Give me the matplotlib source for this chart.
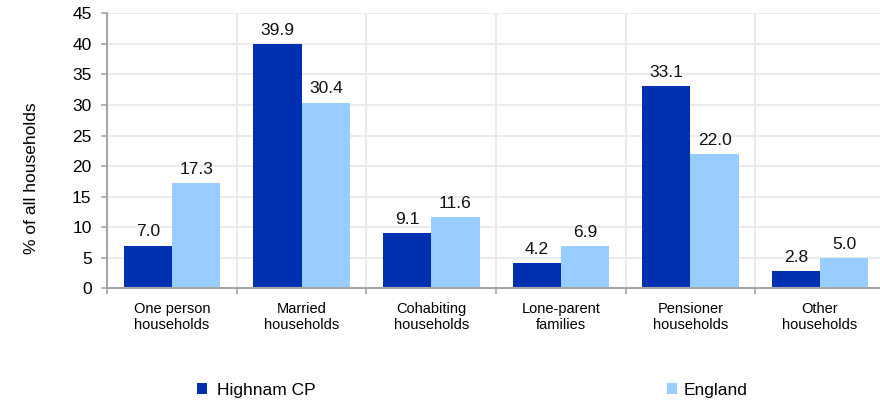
import matplotlib
matplotlib.use("Agg")
import matplotlib.pyplot as plt
import numpy as np
from matplotlib.patches import Patch

categories = ["One person\nhouseholds", "Married\nhouseholds", "Cohabiting\nhouseholds",
              "Lone-parent\nfamilies", "Pensioner\nhouseholds", "Other\nhouseholds"]
highnam = [7.0, 39.9, 9.1, 4.2, 33.1, 2.8]
england = [17.3, 30.4, 11.6, 6.9, 22.0, 5.0]
series_names = ["Highnam CP", "England"]
yticks = [0, 5, 10, 15, 20, 25, 30, 35, 40, 45]

plt.rcParams['font.family'] = ['Liberation Sans', 'DejaVu Sans']

dark = '#0030B0'
light = '#99CCFF'
grid_c = '#EBEBEB'
spine_c = '#A6A6A6'
num_fs = 12.5
cat_fs = 10.5

fig = plt.figure(figsize=(8.8, 4.04), dpi=100)
ax = fig.add_axes([107.3/880, 1-288.3/404, 777.5/880, (288.3-13.3)/404])

x = np.arange(len(categories))
w = 0.373
ax.bar(x - w/2, highnam, w, color=dark, zorder=3)
ax.bar(x + w/2, england, w, color=light, zorder=3)

for xi, v in zip(x - w/2, highnam):
    ax.annotate(f"{v:.1f}", (xi, v), xytext=(0, 6.5), textcoords='offset points',
                ha='center', va='baseline', fontsize=num_fs, color='#111111')
for xi, v in zip(x + w/2, england):
    ax.annotate(f"{v:.1f}", (xi, v), xytext=(0, 6.5), textcoords='offset points',
                ha='center', va='baseline', fontsize=num_fs, color='#111111')

ax.set_xlim(-0.5, len(categories) - 0.5)
ax.set_ylim(0, 45)
ax.set_yticks(yticks)
ax.tick_params(axis='y', labelsize=num_fs, length=4.3, color=spine_c, width=1.2, pad=7)

# category boundaries as major ticks, labels on minor ticks
ax.set_xticks(np.arange(len(categories) + 1) - 0.5)
ax.set_xticklabels([])
ax.set_xticks(x, minor=True)
ax.set_xticklabels(categories, minor=True, fontsize=cat_fs, linespacing=1.2)
ax.tick_params(axis='x', which='major', length=4.3, color=spine_c, width=1.2)
ax.tick_params(axis='x', which='minor', length=0, pad=10)

ax.grid(True, which='major', color=grid_c, linewidth=1.5, zorder=0)
ax.set_axisbelow(True)

for s in ['top', 'right']:
    ax.spines[s].set_visible(False)
for s in ['left', 'bottom']:
    ax.spines[s].set_color(spine_c)
    ax.spines[s].set_linewidth(1.5)
    ax.spines[s].set_zorder(4)

ax.set_ylabel("% of all households", fontsize=num_fs)
ax.yaxis.set_label_coords(-0.0882, 0.40)

h1 = Patch(facecolor=dark, edgecolor='none')
h2 = Patch(facecolor=light, edgecolor='none')
leg_kw = dict(frameon=False, fontsize=num_fs, handlelength=0.575, handleheight=0.575,
              borderpad=0, borderaxespad=0)
fig.legend([h1], [series_names[0]], loc='center left', bbox_to_anchor=(197/880, 1-390.5/404),
           handletextpad=0.55, **leg_kw)
fig.legend([h2], [series_names[1]], loc='center left', bbox_to_anchor=(667/880, 1-390.5/404),
           handletextpad=0.38, **leg_kw)

fig.savefig("out.png", dpi=100)
